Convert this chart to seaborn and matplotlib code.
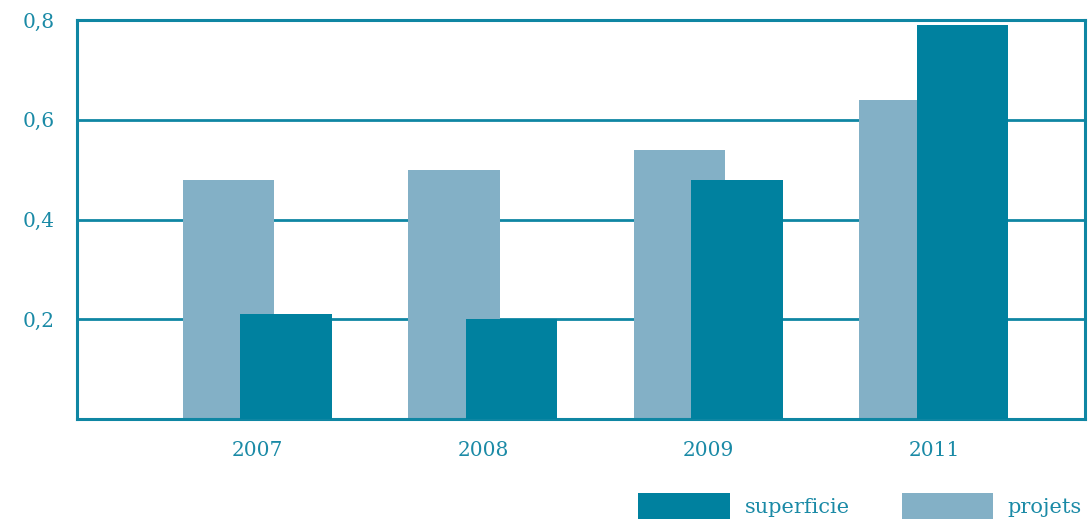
import numpy as np
import pandas as pd
import matplotlib
matplotlib.use("Agg")
import matplotlib.pyplot as plt
import seaborn as sns
from matplotlib.patches import Patch

years = ["2007", "2008", "2009", "2011"]
projets = [0.48, 0.50, 0.54, 0.64]
superficie = [0.21, 0.20, 0.48, 0.79]
ytick_vals = [0.2, 0.4, 0.6, 0.8]
ytick_labels = ["0,2", "0,4", "0,6", "0,8"]

DARK = "#00819f"
LIGHT = "#83b0c6"
LINE = "#0f86a3"
TEXT = "#1a8aa6"

sns.set_theme(style="white")
plt.rcParams["font.family"] = ["DejaVu Serif"]

fig = plt.figure(figsize=(10.88, 5.26), dpi=100)
ax = fig.add_axes([77 / 1088, 1 - 419 / 526, 1008 / 1088, 399 / 526])

idx = np.arange(len(years))
off = 0.1275
df_p = pd.DataFrame({"x": idx - off, "v": projets})
df_s = pd.DataFrame({"x": idx + off, "v": superficie})

for y in ytick_vals:
    ax.axhline(y, color=LINE, lw=2, zorder=0)

sns.barplot(data=df_p, x="x", y="v", native_scale=True, width=0.405,
            color=LIGHT, saturation=1, linewidth=0, ax=ax, zorder=2)
sns.barplot(data=df_s, x="x", y="v", native_scale=True, width=0.405,
            color=DARK, saturation=1, linewidth=0, ax=ax, zorder=3)

ax.set_xlim(-0.80, 3.67)
ax.set_ylim(0, 0.8)
ax.set_xticks(idx)
ax.set_xticklabels(years)
ax.set_yticks(ytick_vals)
ax.set_yticklabels(ytick_labels)
ax.set_xlabel("")
ax.set_ylabel("")
ax.tick_params(axis="both", length=0, labelsize=14.5, labelcolor=TEXT)
ax.tick_params(axis="y", pad=16)
ax.tick_params(axis="x", pad=16)
for s in ax.spines.values():
    s.set_visible(True)
    s.set_color(LINE)
    s.set_linewidth(2.2)
ax.grid(False)

handles = [Patch(facecolor=DARK, edgecolor="none", label="superficie"),
           Patch(facecolor=LIGHT, edgecolor="none", label="projets")]
fig.legend(handles=handles, loc="lower right", bbox_to_anchor=(1.006, -0.01),
           ncol=2, frameon=False, fontsize=15, labelcolor=TEXT,
           handlelength=4.37, handleheight=1.5, handletextpad=0.72,
           columnspacing=2.5, borderaxespad=0.2)

fig.savefig("out.png", dpi=100)
